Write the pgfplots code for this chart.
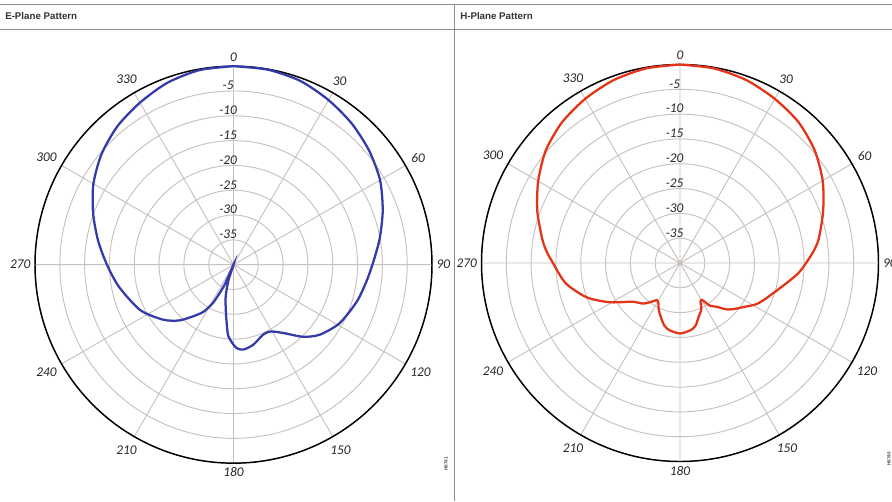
\documentclass[border=0pt]{standalone}
\usepackage{pgfplots}
\pgfplotsset{compat=1.18}
\usepackage{pgfplotstable}
\usepgfplotslibrary{polar}
\usepackage{fontspec}
\setmainfont{Carlito}
\newfontfamily\hdr{Liberation Sans}
\definecolor{gridc}{RGB}{200,193,190}
\definecolor{eblue}{RGB}{52,58,170}
\definecolor{hred}{RGB}{228,52,24}
\definecolor{framec}{RGB}{140,140,140}

% angle (deg, clockwise from top), level (dB)
\pgfplotstableread{
a db
0 0
10 -0.1
20 -0.6
30 -1.7
40 -2.9
50 -4.3
60 -5.9
70 -8.0
80 -10.1
90 -12.0
98 -13.1
107 -14.1
119 -15.6
129 -17.6
136 -19.8
144 -23.0
151 -24.6
157 -24.7
166 -23.4
173 -22.8
178 -23.2
184 -25.5
187 -28.5
190 -31.0
194 -33.5
198 -36.8
201 -40
204 -35.5
208 -31.5
212 -29.0
216 -27.5
224 -24.4
232 -22.0
244 -19.1
259 -16.5
270 -14.5
280 -12.3
290 -9.9
300 -7.4
310 -5.3
320 -3.6
330 -2.3
340 -1.0
350 -0.2
360 0
}\Edata

\pgfplotstableread{
a db
0 0
10 -0.2
20 -0.8
30 -1.8
40 -2.9
50 -4.6
60 -6.8
70 -9.3
80 -11.6
85 -13.0
90 -14.6
95 -16.1
103 -18.9
117 -22.2
125 -24.5
130 -25.6
135 -26.8
140 -28.5
145 -29.5
149 -31.3
152 -31.2
155 -29.8
161 -28.5
166 -27.0
171 -26.3
180 -25.8
189 -26.3
194 -27.0
199 -28.3
205 -29.8
209 -31.0
212 -31.2
216 -30.4
222 -29.0
231 -27.6
241 -23.7
250 -19.9
260 -16.6
270 -14.4
275 -13.0
280 -11.8
290 -9.4
300 -7.0
310 -4.7
320 -3.0
330 -1.8
340 -0.8
350 -0.2
360 0
}\Hdata

\pgfplotsset{
  myaxis/.style={
    width=297.75pt, height=297.75pt, scale only axis,
    anchor=center,
    xmin=0, xmax=360, ymin=0, ymax=40,
    xtick={0,30,...,330},
    xticklabels={90,60,30,0,330,300,270,240,210,180,150,120},
    ytick={0,5,...,40},
    yticklabels={},
    grid=major,
    major grid style={gridc, line width=0.7pt},
    separate axis lines,
    x axis line style={black, line width=1.1pt},
    y axis line style={draw=none},
    major tick length=0pt,
    xticklabel style={font=\fontsize{10}{12}\selectfont\itshape, text=black!85},
    clip=false,
  },
}
\tikzset{
  rl/.style={anchor=south, inner sep=0.6pt, xshift=-4pt,
    font=\fontsize{10}{12}\selectfont\itshape, text=black!85},
}

\begin{document}
\begin{tikzpicture}
% frames
\begin{scope}[x=0.75pt,y=-0.75pt]
  \fill[white] (0,0) rectangle (892,501);
  \draw[framec, line width=0.9pt] (0,4.5) -- (892,4.5);
  \draw[framec, line width=0.9pt] (0,29.5) -- (892,29.5);
  \draw[framec, line width=1.1pt] (454.5,4.5) -- (454.5,501);
  \node[anchor=west, inner sep=0pt, font=\hdr\bfseries\fontsize{7.3}{8}\selectfont, text=black!80] at (5,16.5) {E-Plane Pattern};
  \node[anchor=west, inner sep=0pt, font=\hdr\bfseries\fontsize{7.3}{8}\selectfont, text=black!80] at (460,16.5) {H-Plane Pattern};
  \node[rotate=90, inner sep=0pt, font=\hdr\bfseries\fontsize{3.5}{4}\selectfont, text=black!70] at (446,464) {H8741};
  \node[rotate=90, inner sep=0pt, font=\hdr\bfseries\fontsize{3.5}{4}\selectfont, text=black!70] at (889,459) {H8740};
\end{scope}

\begin{polaraxis}[myaxis, at={(175.125pt,-198.5pt)}]
  \addplot[eblue, line width=1.7pt, smooth, tension=0.45]
    table[x expr={90-\thisrow{a}}, y expr={\thisrow{db}+40}] {\Edata};
  \node[rl] at (axis cs:90,35) {-5};
  \node[rl] at (axis cs:90,30) {-10};
  \node[rl] at (axis cs:90,25) {-15};
  \node[rl] at (axis cs:90,20) {-20};
  \node[rl] at (axis cs:90,15) {-25};
  \node[rl] at (axis cs:90,10) {-30};
  \node[rl] at (axis cs:90,5) {-35};
\end{polaraxis}

\begin{polaraxis}[myaxis, at={(510pt,-197.25pt)}]
  \addplot[hred, line width=1.7pt, smooth, tension=0.45]
    table[x expr={90-\thisrow{a}}, y expr={\thisrow{db}+40}] {\Hdata};
  \node[rl] at (axis cs:90,35) {-5};
  \node[rl] at (axis cs:90,30) {-10};
  \node[rl] at (axis cs:90,25) {-15};
  \node[rl] at (axis cs:90,20) {-20};
  \node[rl] at (axis cs:90,15) {-25};
  \node[rl] at (axis cs:90,10) {-30};
  \node[rl] at (axis cs:90,5) {-35};
\end{polaraxis}

\pgfresetboundingbox
\path[use as bounding box] (0,0) rectangle (669pt,-375.75pt);
\end{tikzpicture}
\end{document}
